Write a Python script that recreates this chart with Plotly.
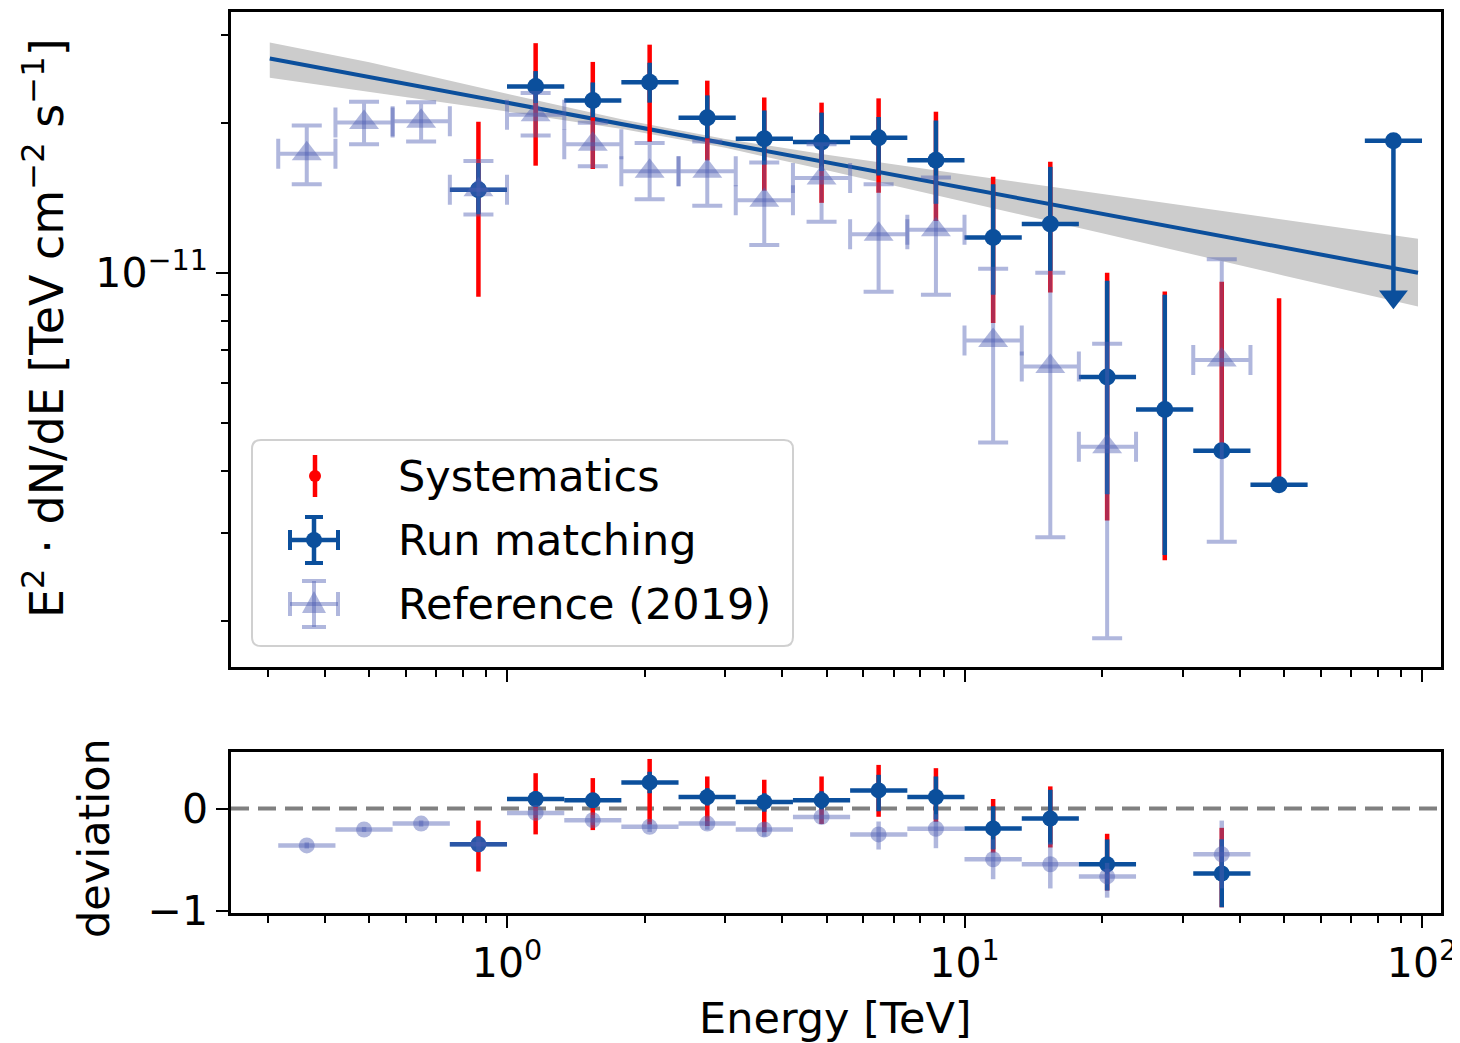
import plotly.graph_objects as go

# ---------------- data ----------------
# Run matching spectrum points (TeV, TeV cm^-2 s^-1)
rm_e = [0.866, 1.155, 1.54, 2.05, 2.74, 3.65, 4.87, 6.49, 8.66, 11.55, 15.4, 20.5, 27.4, 36.5, 48.7]
rm_elo = [0.75, 1.0, 1.334, 1.778, 2.371, 3.162, 4.217, 5.623, 7.499, 10.0, 13.34, 17.78, 23.71, 31.62, 42.17]
rm_ehi = [1.0, 1.334, 1.778, 2.371, 3.162, 4.217, 5.623, 7.499, 10.0, 13.34, 17.78, 23.71, 31.62, 42.17, 56.23]
rm_flux = [1.467e-11, 2.364e-11, 2.218e-11, 2.412e-11, 2.046e-11, 1.858e-11, 1.829e-11, 1.866e-11,
           1.681e-11, 1.176e-11, 1.252e-11, 6.17e-12, 5.31e-12, 4.39e-12, 3.75e-12]
rm_stat_lo = [1.31e-11, 2.19e-11, 2.05e-11, 2.195e-11, 1.86e-11, 1.648e-11, 1.60e-11, 1.567e-11,
              1.375e-11, 9.03e-12, 1.008e-11, 3.59e-12, 2.71e-12, 4.39e-12, 3.75e-12]
rm_stat_hi = [1.66e-11, 2.54e-11, 2.41e-11, 2.64e-11, 2.27e-11, 2.117e-11, 2.096e-11, 2.054e-11,
              2.021e-11, 1.505e-11, 1.631e-11, 9.63e-12, 9.03e-12, 4.39e-12, 3.75e-12]
sys_lo = [8.95e-12, 1.64e-11, 1.615e-11, 1.83e-11, 1.68e-11, 1.461e-11, 1.381e-11, 1.447e-11,
          1.27e-11, 7.92e-12, 9.12e-12, 3.18e-12, 2.646e-12, 4.39e-12, 3.75e-12]
sys_hi = [2.01e-11, 2.89e-11, 2.65e-11, 2.87e-11, 2.43e-11, 2.248e-11, 2.195e-11, 2.239e-11,
          2.105e-11, 1.558e-11, 1.671e-11, 1.0e-11, 9.17e-12, 9.59e-12, 8.88e-12]

# Upper limit
ul_e = [86.6]
ul_elo = [74.99]
ul_ehi = [100.0]
ul_flux = [1.84e-11]
ul_tip = [8.95e-12]

# Reference (2019)
ref_e = [0.365, 0.487, 0.649, 0.866, 1.155, 1.54, 2.05, 2.74, 3.65, 4.87, 6.49, 8.66, 11.55, 15.4, 20.5, 36.5]
ref_elo = [0.3162, 0.4217, 0.5623, 0.75, 1.0, 1.334, 1.778, 2.371, 3.162, 4.217, 5.623, 7.499, 10.0, 13.34, 17.78, 31.62]
ref_ehi = [0.4217, 0.5623, 0.75, 1.0, 1.334, 1.778, 2.371, 3.162, 4.217, 5.623, 7.499, 10.0, 13.34, 17.78, 23.71, 42.17]
ref_flux = [1.733e-11, 2.002e-11, 2.014e-11, 1.467e-11, 2.075e-11, 1.81e-11, 1.599e-11, 1.598e-11,
            1.398e-11, 1.55e-11, 1.195e-11, 1.219e-11, 7.31e-12, 6.48e-12, 4.47e-12, 6.68e-12]
ref_lo = [1.505e-11, 1.81e-11, 1.833e-11, 1.308e-11, 1.885e-11, 1.635e-11, 1.404e-11, 1.363e-11,
          1.137e-11, 1.266e-11, 9.16e-12, 9.03e-12, 4.56e-12, 2.94e-12, 1.844e-12, 2.88e-12]
ref_hi = [1.974e-11, 2.204e-11, 2.20e-11, 1.675e-11, 2.294e-11, 2.00e-11, 1.822e-11, 1.835e-11,
          1.665e-11, 1.81e-11, 1.505e-11, 1.552e-11, 1.018e-11, 1.0e-11, 7.2e-12, 1.064e-11]

# Power-law model and its error band
model_e = [0.303, 0.5, 1.0, 1.8, 3.0, 5.0, 10.0, 20.0, 50.0, 98.0]
model_flux = [2.693e-11, 2.472e-11, 2.195e-11, 1.985e-11, 1.818e-11, 1.665e-11, 1.479e-11, 1.314e-11, 1.122e-11, 1.0e-11]
band_hi = [2.90e-11, 2.647e-11, 2.287e-11, 2.029e-11, 1.856e-11, 1.726e-11, 1.575e-11, 1.439e-11, 1.276e-11, 1.170e-11]
band_lo = [2.464e-11, 2.309e-11, 2.107e-11, 1.942e-11, 1.781e-11, 1.606e-11, 1.389e-11, 1.200e-11, 0.986e-11, 0.855e-11]

# Deviation panel
dev_rm_e = [0.866, 1.155, 1.54, 2.05, 2.74, 3.65, 4.87, 6.49, 8.66, 11.55, 15.4, 20.5, 36.5]
dev_rm_elo = [0.75, 1.0, 1.334, 1.778, 2.371, 3.162, 4.217, 5.623, 7.499, 10.0, 13.34, 17.78, 31.62]
dev_rm_ehi = [1.0, 1.334, 1.778, 2.371, 3.162, 4.217, 5.623, 7.499, 10.0, 13.34, 17.78, 23.71, 42.17]
dev_rm = [-0.349, 0.094, 0.081, 0.256, 0.113, 0.065, 0.081, 0.178, 0.113, -0.194, -0.097, -0.544, -0.634]
dev_rm_lo = [-0.42, 0.02, 0.02, 0.15, 0.03, -0.03, -0.01, -0.026, -0.107, -0.398, -0.35, -0.80, -0.964]
dev_rm_hi = [-0.28, 0.17, 0.15, 0.36, 0.20, 0.15, 0.17, 0.33, 0.314, 0.023, 0.184, -0.301, -0.30]
dev_sys_lo = [-0.615, -0.252, -0.21, -0.155, -0.17, -0.23, -0.15, -0.08, -0.13, -0.43, -0.38, -0.80, -0.964]
dev_sys_hi = [-0.117, 0.346, 0.298, 0.485, 0.314, 0.282, 0.314, 0.427, 0.395, 0.094, 0.217, -0.246, -0.188]

dev_ref = [-0.36, -0.204, -0.146, -0.349, -0.042, -0.113, -0.178, -0.146, -0.204, -0.081, -0.252, -0.197,
           -0.495, -0.544, -0.663, -0.447]
dev_ref_lo = [-0.39, -0.229, -0.176, -0.42, -0.092, -0.163, -0.228, -0.206, -0.274, -0.151, -0.40, -0.387,
              -0.69, -0.78, -0.87, -0.78]
dev_ref_hi = [-0.33, -0.179, -0.116, -0.28, 0.008, -0.063, -0.128, -0.086, -0.134, -0.011, -0.126, -0.055,
              -0.30, -0.33, -0.53, -0.117]

# tick definitions
x_major = [1, 10, 100]
x_major_text = ["10<sup>0</sup>", "10<sup>1</sup>", "10<sup>2</sup>"]
x_minor = [0.3, 0.4, 0.5, 0.6, 0.7, 0.8, 0.9, 2, 3, 4, 5, 6, 7, 8, 9, 20, 30, 40, 50, 60, 70, 80, 90]
y_major = [1e-11]
y_major_text = ["10<sup>\u221211</sup>"]
y_minor = [2e-12, 3e-12, 4e-12, 5e-12, 6e-12, 7e-12, 8e-12, 9e-12, 2e-11, 3e-11]
dev_ticks = [-1, 0]
dev_tick_text = ["\u22121", "0"]

# ---------------- styling ----------------
BLUE = "#0b4f9c"
RED = "#ff0000"
LAV = "rgba(80,95,180,0.45)"
BAND = "#cccccc"
FONT = "DejaVu Sans"
FS = 43
TFS = 41


def minus(v, lo):
    return [a - b for a, b in zip(v, lo)]


def plus(v, hi):
    return [b - a for a, b in zip(v, hi)]


fig = go.Figure()

# model band + line (top)
fig.add_trace(go.Scatter(x=model_e, y=band_lo, mode="lines", line=dict(width=0, color=BAND),
                         hoverinfo="skip", xaxis="x", yaxis="y"))
fig.add_trace(go.Scatter(x=model_e, y=band_hi, mode="lines", line=dict(width=0, color=BAND),
                         fill="tonexty", fillcolor=BAND, hoverinfo="skip", xaxis="x", yaxis="y"))
fig.add_trace(go.Scatter(x=model_e, y=model_flux, mode="lines", line=dict(width=4, color=BLUE),
                         xaxis="x", yaxis="y"))

# systematics (top)
fig.add_trace(go.Scatter(x=rm_e, y=rm_flux, mode="markers", marker=dict(color=RED, size=9),
                         error_y=dict(type="data", symmetric=False, array=plus(rm_flux, sys_hi),
                                      arrayminus=minus(rm_flux, sys_lo), color=RED, thickness=4.5, width=0),
                         xaxis="x", yaxis="y"))
# run matching (top)
fig.add_trace(go.Scatter(x=rm_e, y=rm_flux, mode="markers", marker=dict(color=BLUE, size=17),
                         error_y=dict(type="data", symmetric=False, array=plus(rm_flux, rm_stat_hi),
                                      arrayminus=minus(rm_flux, rm_stat_lo), color=BLUE, thickness=4.5, width=0),
                         error_x=dict(type="data", symmetric=False, array=plus(rm_e, rm_ehi),
                                      arrayminus=minus(rm_e, rm_elo), color=BLUE, thickness=4.5, width=0),
                         xaxis="x", yaxis="y"))
# upper limit
fig.add_trace(go.Scatter(x=ul_e, y=ul_flux, mode="markers", marker=dict(color=BLUE, size=17),
                         error_y=dict(type="data", symmetric=False, array=[0],
                                      arrayminus=minus(ul_flux, ul_tip), color=BLUE, thickness=4.5, width=0),
                         error_x=dict(type="data", symmetric=False, array=plus(ul_e, ul_ehi),
                                      arrayminus=minus(ul_e, ul_elo), color=BLUE, thickness=4.5, width=0),
                         xaxis="x", yaxis="y"))
fig.add_trace(go.Scatter(x=ul_e, y=ul_tip, mode="markers",
                         marker=dict(color=BLUE, size=25, symbol="triangle-down", line=dict(width=0)),
                         xaxis="x", yaxis="y"))
# reference (top)
fig.add_trace(go.Scatter(x=ref_e, y=ref_flux, mode="markers",
                         marker=dict(color=LAV, size=26, symbol="triangle-up", line=dict(width=0)),
                         error_y=dict(type="data", symmetric=False, array=plus(ref_flux, ref_hi),
                                      arrayminus=minus(ref_flux, ref_lo), color=LAV, thickness=4, width=15),
                         error_x=dict(type="data", symmetric=False, array=plus(ref_e, ref_ehi),
                                      arrayminus=minus(ref_e, ref_elo), color=LAV, thickness=4, width=15),
                         xaxis="x", yaxis="y"))

# deviation panel
fig.add_trace(go.Scatter(x=dev_rm_e, y=dev_rm, mode="markers", marker=dict(color=RED, size=8),
                         error_y=dict(type="data", symmetric=False, array=plus(dev_rm, dev_sys_hi),
                                      arrayminus=minus(dev_rm, dev_sys_lo), color=RED, thickness=4.5, width=0),
                         xaxis="x2", yaxis="y2"))
fig.add_trace(go.Scatter(x=dev_rm_e, y=dev_rm, mode="markers", marker=dict(color=BLUE, size=16),
                         error_y=dict(type="data", symmetric=False, array=plus(dev_rm, dev_rm_hi),
                                      arrayminus=minus(dev_rm, dev_rm_lo), color=BLUE, thickness=4.5, width=0),
                         error_x=dict(type="data", symmetric=False, array=plus(dev_rm_e, dev_rm_ehi),
                                      arrayminus=minus(dev_rm_e, dev_rm_elo), color=BLUE, thickness=4.5, width=0),
                         xaxis="x2", yaxis="y2"))
fig.add_trace(go.Scatter(x=ref_e, y=dev_ref, mode="markers",
                         marker=dict(color=LAV, size=16, line=dict(width=0)),
                         error_y=dict(type="data", symmetric=False, array=plus(dev_ref, dev_ref_hi),
                                      arrayminus=minus(dev_ref, dev_ref_lo), color=LAV, thickness=4.5, width=0),
                         error_x=dict(type="data", symmetric=False, array=plus(ref_e, ref_ehi),
                                      arrayminus=minus(ref_e, ref_elo), color=LAV, thickness=4.5, width=0),
                         xaxis="x2", yaxis="y2"))

# ---------------- layout ----------------
# page body has an 8px margin: build the figure 8px smaller so the screenshot matches
OFF = 8
W, H = 1460 - OFF, 1043 - OFF
L, R, T, B = 231, 1441, 12, 913   # plot-area edges in screenshot pixels


def pxx(v):
    return (v - L) / (R - L)


def pxy(v):
    return (B - v) / (B - T)


axis_common = dict(showline=True, linecolor="black", linewidth=2.5, mirror=True, ticks="outside",
                   ticklen=12, tickwidth=2, tickcolor="black", showgrid=False, zeroline=False,
                   tickfont=dict(family=FONT, size=TFS, color="black"))
xrange = [-0.6033, 2.0415]

fig.update_layout(
    width=W, height=H, paper_bgcolor="white", plot_bgcolor="white", showlegend=False,
    margin=dict(l=L - OFF, r=W - (R - OFF), t=T - OFF, b=H - (B - OFF), autoexpand=False),
    font=dict(family=FONT, size=FS, color="black"),
    xaxis=dict(type="log", range=xrange, domain=[0, 1], anchor="y", tickvals=x_major, ticktext=x_major_text,
               showticklabels=False,
               minor=dict(tickvals=x_minor, ticklen=7, tickwidth=1.5, ticks="outside", tickcolor="black"),
               **axis_common),
    yaxis=dict(type="log", range=[-11.792, -10.4765], domain=[pxy(667), 1], anchor="x",
               tickvals=y_major, ticktext=y_major_text,
               minor=dict(tickvals=y_minor, ticklen=7, tickwidth=1.5, ticks="outside", tickcolor="black"),
               **axis_common),
    xaxis2=dict(type="log", range=xrange, domain=[0, 1], anchor="y2", tickvals=x_major, ticktext=x_major_text,
                minor=dict(tickvals=x_minor, ticklen=7, tickwidth=1.5, ticks="outside", tickcolor="black"),
                **axis_common),
    yaxis2=dict(range=[-1.02, 0.553], domain=[0, pxy(752)], anchor="x2", tickvals=dev_ticks,
                ticktext=dev_tick_text, **axis_common),
)

shapes = []
# zero line in deviation panel
shapes.append(dict(type="line", xref="x2 domain", yref="y2", x0=0, x1=1, y0=0, y1=0,
                   line=dict(color="#808080", width=4, dash="18px,9px"), layer="below"))

# legend box
lx0, lx1, ly0, ly1, rr = 252, 793, 440, 646, 9
path = (f"M {pxx(lx0 + rr)},{pxy(ly0)} L {pxx(lx1 - rr)},{pxy(ly0)} "
        f"Q {pxx(lx1)},{pxy(ly0)} {pxx(lx1)},{pxy(ly0 + rr)} L {pxx(lx1)},{pxy(ly1 - rr)} "
        f"Q {pxx(lx1)},{pxy(ly1)} {pxx(lx1 - rr)},{pxy(ly1)} L {pxx(lx0 + rr)},{pxy(ly1)} "
        f"Q {pxx(lx0)},{pxy(ly1)} {pxx(lx0)},{pxy(ly1 - rr)} L {pxx(lx0)},{pxy(ly0 + rr)} "
        f"Q {pxx(lx0)},{pxy(ly0)} {pxx(lx0 + rr)},{pxy(ly0)} Z")
shapes.append(dict(type="path", xref="paper", yref="paper", path=path,
                   fillcolor="rgba(255,255,255,0.8)", line=dict(color="#d0d0d0", width=2), layer="above"))


def seg(x0, y0, x1, y1, color, w):
    return dict(type="line", xref="paper", yref="paper", x0=pxx(x0), y0=pxy(y0), x1=pxx(x1), y1=pxy(y1),
                line=dict(color=color, width=w), layer="above")


def circ(cx, cy, r, color):
    return dict(type="circle", xref="paper", yref="paper", x0=pxx(cx - r), x1=pxx(cx + r),
                y0=pxy(cy + r), y1=pxy(cy - r), fillcolor=color, line=dict(width=0), layer="above")


# systematics glyph
shapes.append(seg(315, 455, 315, 497, RED, 4.5))
shapes.append(circ(315, 476, 6, RED))
# run matching glyph
cx, cy = 314, 540
shapes += [seg(cx, cy - 23, cx, cy + 23, BLUE, 4.5), seg(cx - 24, cy, cx + 24, cy, BLUE, 4.5),
           seg(cx - 9, cy - 23, cx + 9, cy - 23, BLUE, 4), seg(cx - 9, cy + 23, cx + 9, cy + 23, BLUE, 4),
           seg(cx - 24, cy - 10, cx - 24, cy + 10, BLUE, 4), seg(cx + 24, cy - 10, cx + 24, cy + 10, BLUE, 4),
           circ(cx, cy, 8, BLUE)]
# reference glyph
cx, cy = 314, 604
shapes += [seg(cx, cy - 23, cx, cy + 23, LAV, 4), seg(cx - 24, cy, cx + 24, cy, LAV, 4),
           seg(cx - 12, cy - 23, cx + 12, cy - 23, LAV, 4), seg(cx - 12, cy + 23, cx + 12, cy + 23, LAV, 4),
           seg(cx - 24, cy - 12, cx - 24, cy + 12, LAV, 4), seg(cx + 24, cy - 12, cx + 24, cy + 12, LAV, 4)]
tri = (f"M {pxx(cx)},{pxy(cy - 13)} L {pxx(cx + 12)},{pxy(cy + 9)} L {pxx(cx - 12)},{pxy(cy + 9)} Z")
shapes.append(dict(type="path", xref="paper", yref="paper", path=tri, fillcolor=LAV,
                   line=dict(width=0), layer="above"))

fig.update_layout(shapes=shapes)

ann = []
for txt, yy in [("Systematics", 476), ("Run matching", 540), ("Reference (2019)", 604)]:
    ann.append(dict(text=txt, xref="paper", yref="paper", x=pxx(396), y=pxy(yy), xanchor="left",
                    yanchor="middle", showarrow=False, font=dict(family=FONT, size=FS, color="black")))
ann.append(dict(text="E<sup>2</sup> \u00b7 dN/dE [TeV cm<sup>\u22122</sup> s<sup>\u22121</sup>]",
                xref="paper", yref="paper", x=pxx(44), y=pxy(328), textangle=-90,
                xanchor="center", yanchor="middle", showarrow=False,
                font=dict(family=FONT, size=46, color="black")))
ann.append(dict(text="deviation", xref="paper", yref="paper", x=pxx(94), y=pxy(838), textangle=-90,
                xanchor="center", yanchor="middle", showarrow=False,
                font=dict(family=FONT, size=FS, color="black")))
ann.append(dict(text="Energy [TeV]", xref="paper", yref="paper", x=pxx(835), y=pxy(1018),
                xanchor="center", yanchor="middle", showarrow=False,
                font=dict(family=FONT, size=FS, color="black")))
fig.update_layout(annotations=ann)

fig.write_html("out.html")
